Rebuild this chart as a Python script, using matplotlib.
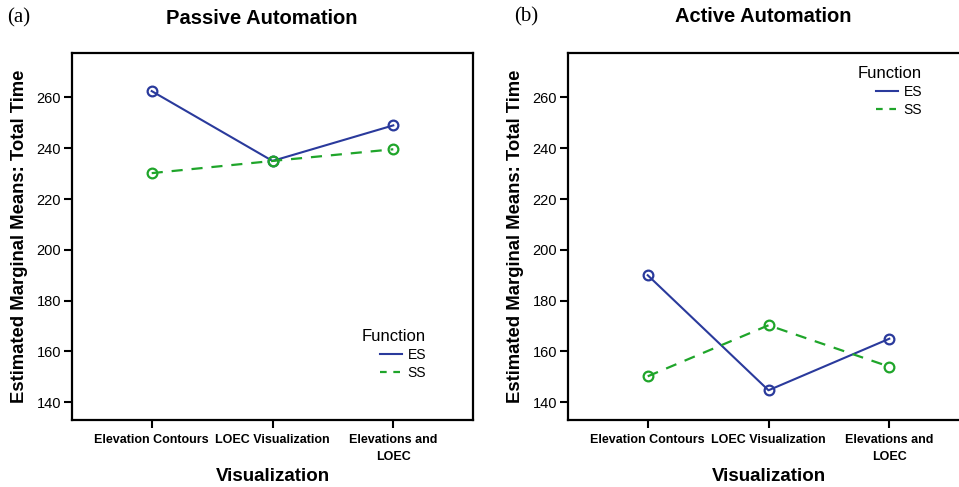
import matplotlib
matplotlib.use("Agg")
import matplotlib.pyplot as plt
from matplotlib.lines import Line2D

categories = ["Elevation Contours", "LOEC Visualization", "Elevations and\nLOEC"]
passive_es = [262.5, 235.0, 249.0]
passive_ss = [230.2, 235.0, 239.6]
active_es = [190.0, 144.7, 165.0]
active_ss = [150.2, 170.3, 154.0]
yticks = [140, 160, 180, 200, 220, 240, 260]

plt.rcParams['font.family'] = ['Liberation Sans', 'DejaVu Sans']

BLUE = '#2a3a9c'
GREEN = '#1fa52a'

fig = plt.figure(figsize=(9.59, 4.87), dpi=100)
W, H = 959, 487

def axes_px(x0, y0, x1, y1):
    return fig.add_axes([x0 / W, 1 - y1 / H, (x1 - x0) / W, (y1 - y0) / H])

ax1 = axes_px(72, 53, 473, 420)
ax2 = axes_px(568, 53, 969, 420)

def style(ax, es, ss):
    x = list(range(len(categories)))
    ax.plot(x, es, color=BLUE, lw=1.5, marker='o', ms=7, mfc='none', mec=BLUE, mew=1.6, label='ES')
    ax.plot(x, ss, color=GREEN, lw=1.6, ls=(0, (5, 4)), marker='o', ms=7, mfc='none', mec=GREEN, mew=1.6, label='SS')
    ax.set_xlim(-0.66, 2.66)
    ax.set_ylim(133, 277.5)
    ax.set_yticks(yticks)
    ax.set_xticks(x)
    ax.set_xticklabels(categories, fontsize=9, fontweight='bold', linespacing=1.55)
    ax.tick_params(axis='y', labelsize=10.5, direction='out', length=6, width=1.5, pad=2)
    ax.tick_params(axis='x', direction='out', length=6, width=1.5, pad=4)
    for s in ax.spines.values():
        s.set_linewidth(1.6)
    ax.set_xlabel('Visualization', fontsize=13.5, fontweight='bold', labelpad=4)
    ax.set_ylabel('Estimated Marginal Means: Total Time', fontsize=13.3, fontweight='bold', labelpad=6)

style(ax1, passive_es, passive_ss)
style(ax2, active_es, active_ss)

handles = [Line2D([], [], color=BLUE, lw=1.5), Line2D([], [], color=GREEN, lw=1.6, ls=(0, (3, 3)))]
for ax, (lx, ly) in [(ax1, (355, 322)), (ax2, (851, 59))]:
    leg = ax.legend(handles, ['ES', 'SS'], title='Function', frameon=False, fontsize=10,
                    title_fontsize=12, handlelength=1.6, handletextpad=0.4, labelspacing=0.3,
                    loc='upper left', bbox_to_anchor=(lx / W, 1 - ly / H),
                    bbox_transform=fig.transFigure, borderpad=0)
    leg._legend_box.align = 'right'

fig.text(262 / W, 1 - 18 / H, 'Passive Automation', ha='center', va='center', fontsize=14.5, fontweight='bold')
fig.text(763 / W, 1 - 16 / H, 'Active Automation', ha='center', va='center', fontsize=14.5, fontweight='bold')
fig.text(7 / W, 1 - 18 / H, '(a)', ha='left', va='center', fontsize=15, family='Liberation Serif')
fig.text(514 / W, 1 - 17 / H, '(b)', ha='left', va='center', fontsize=15, family='Liberation Serif')

fig.savefig('out.png', dpi=100)
